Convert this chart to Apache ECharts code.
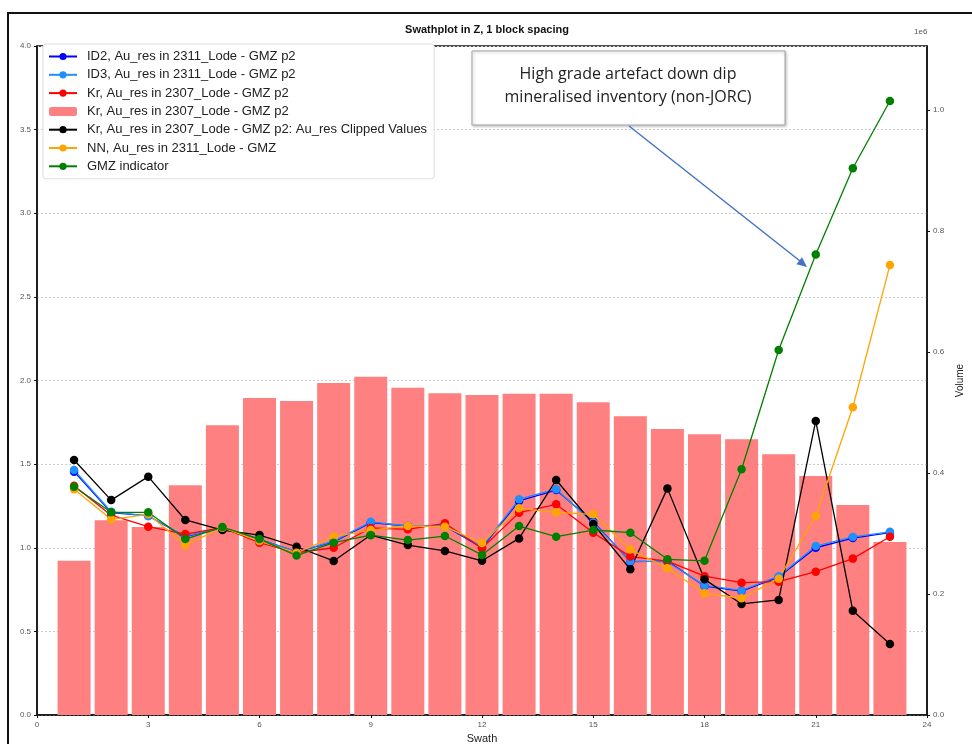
<!DOCTYPE html>
<html>
<head>
<meta charset="utf-8" />
<title>Swathplot in Z</title>
<script src="https://cdn.jsdelivr.net/npm/echarts@6.0.0/dist/echarts.min.js"></script>
<style>
	html, body { margin: 0; padding: 0; background: #fff; }
	#container { width: 972px; height: 744px; }
</style>
</head>
<body>
<div id="container"></div>
<script>
	// swath index (x) and the series
	var swath = [1, 2, 3, 4, 5, 6, 7, 8, 9, 10, 11, 12, 13, 14, 15, 16, 17, 18, 19, 20, 21, 22, 23];
	var id2 = [1.455, 1.21, 1.19, 1.066, 1.12, 1.05, 0.975, 1.035, 1.15, 1.13, 1.13, 1.0, 1.28, 1.345, 1.156, 0.917, 0.92, 0.771, 0.741, 0.825, 1.0, 1.058, 1.09];
	var id3 = [1.465, 1.215, 1.19, 1.07, 1.12, 1.05, 0.975, 1.04, 1.155, 1.13, 1.135, 1.005, 1.29, 1.35, 1.15, 0.92, 0.915, 0.775, 0.745, 0.83, 1.01, 1.065, 1.095];
	var kr = [1.37, 1.195, 1.126, 1.082, 1.12, 1.03, 0.97, 1.0, 1.118, 1.11, 1.146, 0.997, 1.21, 1.26, 1.09, 0.947, 0.92, 0.83, 0.791, 0.797, 0.857, 0.935, 1.066];
	var krClipped = [1.525, 1.285, 1.425, 1.166, 1.106, 1.076, 1.006, 0.921, 1.076, 1.016, 0.981, 0.922, 1.056, 1.405, 1.142, 0.871, 1.355, 0.811, 0.664, 0.688, 1.758, 0.623, 0.425];
	var nn = [1.35, 1.17, 1.2, 1.016, 1.12, 1.04, 0.97, 1.066, 1.106, 1.13, 1.126, 1.028, 1.236, 1.212, 1.2, 0.99, 0.877, 0.728, 0.698, 0.815, 1.19, 1.84, 2.69];
	var gmz = [1.365, 1.212, 1.212, 1.052, 1.124, 1.052, 0.953, 1.03, 1.076, 1.046, 1.07, 0.957, 1.13, 1.066, 1.106, 1.09, 0.931, 0.922, 1.469, 2.182, 2.754, 3.269, 3.671];
	// block volume per swath (units of 1e6)
	var volume = [0.255, 0.322, 0.311, 0.380, 0.479, 0.524, 0.519, 0.549, 0.559, 0.541, 0.532, 0.529, 0.531, 0.531, 0.517, 0.494, 0.473, 0.464, 0.456, 0.431, 0.395, 0.347, 0.286];

	var names = [
		'ID2, Au_res in 2311_Lode - GMZ p2',
		'ID3, Au_res in 2311_Lode - GMZ p2',
		'Kr, Au_res in 2307_Lode - GMZ p2',
		'Kr, Au_res in 2307_Lode - GMZ p2 ',   // bar series, same label as the line
		'Kr, Au_res in 2307_Lode - GMZ p2: Au_res Clipped Values',
		'NN, Au_res in 2311_Lode - GMZ',
		'GMZ indicator'
	];

	function pairs(arr, scale) {
		return swath.map(function (s, i) { return [s, arr[i] * (scale || 1)]; });
	}

	function lineSeries(name, arr, color) {
		return {
			name: name,
			type: 'line',
			data: pairs(arr),
			symbol: 'circle',
			symbolSize: 8.5,
			z: 3,
			lineStyle: { color: color, width: 1.3 },
			itemStyle: { color: color },
			emphasis: { disabled: true }
		};
	}

	var chart = echarts.init(document.getElementById('container'));

	var tickLabel = { color: '#555', fontSize: 8, fontFamily: 'Liberation Sans, Arial' };

	var options = {
		animation: false,
		textStyle: { fontFamily: 'Liberation Sans, Arial' },
		title: {
			text: 'Swathplot in Z, 1 block spacing',
			left: 482, top: 19, textAlign: 'center',
			textStyle: { fontSize: 11, fontWeight: 'bold', color: '#111' }
		},
		grid: {
			left: 37, right: 45, top: 46, bottom: 29,
			show: true, borderColor: '#111', borderWidth: 1.5,
			containLabel: false,
			outerBoundsMode: 'none'
		},
		legend: {
			orient: 'vertical',
			left: 43, top: 44,
			padding: [6, 7, 6, 5],
			backgroundColor: '#fff',
			borderColor: '#ddd', borderWidth: 1, borderRadius: 3,
			itemWidth: 28, itemHeight: 9, itemGap: 5.3,
			textStyle: { fontSize: 13, color: '#222', padding: [0, 0, 0, 5] },
			data: names
		},
		xAxis: {
			type: 'value', min: 0, max: 24, interval: 3,
			name: 'Swath', nameLocation: 'middle', nameGap: 18,
			nameTextStyle: { fontSize: 11, color: '#222' },
			axisLine: { lineStyle: { color: '#111', width: 1.5 } },
			axisTick: { show: true, length: 3, lineStyle: { color: '#111' } },
			axisLabel: Object.assign({ margin: 6 }, tickLabel),
			splitLine: { show: false }
		},
		yAxis: [
			{
				type: 'value', min: 0, max: 4, interval: 0.5,
				axisLine: { show: true, lineStyle: { color: '#111', width: 1.5 } },
				axisTick: { show: true, length: 3, lineStyle: { color: '#111' } },
				axisLabel: Object.assign({ margin: 6, formatter: function (v) { return v.toFixed(1); } }, tickLabel),
				splitLine: { show: true, lineStyle: { color: '#ccc', type: [2, 2], width: 1 } }
			},
			{
				type: 'value', min: 0, max: 1.106e6, interval: 0.2e6,
				position: 'right',
				name: 'Volume', nameLocation: 'middle', nameGap: 26, nameRotate: 90,
				nameTextStyle: { fontSize: 10, color: '#222' },
				axisLine: { show: true, lineStyle: { color: '#111', width: 1.5 } },
				axisTick: { show: true, length: 3, lineStyle: { color: '#111' } },
				axisLabel: Object.assign({ margin: 6, showMaxLabel: false, formatter: function (v) { return (v / 1e6).toFixed(1); } }, tickLabel),
				splitLine: { show: false }
			}
		],
		graphic: [
			// outer frame of the screenshot
			{ type: 'rect', shape: { x: 8, y: 13, width: 1000, height: 800 }, style: { fill: null, stroke: '#111', lineWidth: 2 }, silent: true },
			{ type: 'text', left: 914, top: 28, style: { text: '1e6', fontSize: 8, fill: '#555' } },
			// annotation box
			{
				type: 'rect', shape: { x: 472, y: 51, width: 313, height: 74 },
				style: { fill: '#fff', stroke: '#a5a5a5', lineWidth: 1, shadowBlur: 3, shadowColor: 'rgba(0,0,0,0.25)', shadowOffsetX: 1, shadowOffsetY: 1 },
				z: 10
			},
			{
				type: 'text', x: 628, y: 86, z: 11,
				style: {
					text: 'High grade artefact down dip\nmineralised inventory (non-JORC)',
					fontSize: 16, lineHeight: 23, fill: '#222', align: 'center', verticalAlign: 'middle',
					fontFamily: 'Open Sans'
				}
			},
			{ type: 'line', shape: { x1: 629, y1: 126, x2: 800, y2: 261 }, style: { stroke: '#4472c4', lineWidth: 1.5 }, z: 10 },
			{ type: 'polygon', shape: { points: [[807, 267], [796.4, 264.2], [802.0, 257.2]] }, style: { fill: '#4472c4' }, z: 10 }
		],
		series: [
			lineSeries(names[0], id2, '#0000ff'),
			lineSeries(names[1], id3, '#1e90ff'),
			lineSeries(names[2], kr, '#ff0000'),
			{
				name: names[3],
				type: 'bar',
				yAxisIndex: 1,
				data: pairs(volume, 1e6),
				barWidth: 33,
				z: 1,
				itemStyle: { color: '#ff8080' },
				emphasis: { disabled: true }
			},
			lineSeries(names[4], krClipped, '#000000'),
			lineSeries(names[5], nn, '#ffa500'),
			lineSeries(names[6], gmz, '#008000')
		]
	};

	chart.setOption(options);
</script>
</body>
</html>
